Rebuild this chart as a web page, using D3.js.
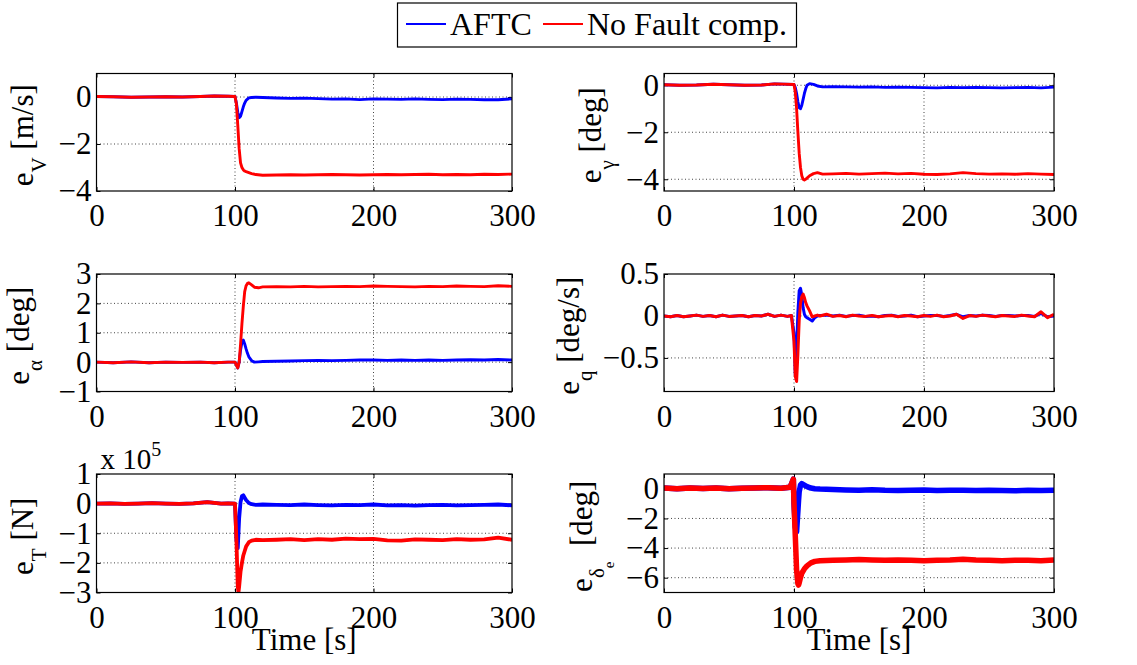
<!DOCTYPE html>
<html>
<head>
<meta charset="utf-8">
<script src="https://cdn.jsdelivr.net/npm/d3@7"></script>
<style>
    body { margin: 0; background: #fff; }
    svg text { font-family: "Liberation Serif", "Times New Roman", serif; fill: #000; }
    .grid { stroke: #444; stroke-width: 1; stroke-dasharray: 1, 2.5; }
</style>
</head>
<body>
<svg id="chart" width="1137" height="665"></svg>
<script>
//Data
const xTicks = [0, 100, 200, 300];
const seriesNames = ['AFTC', 'No Fault comp.'];

// e_V [m/s]
const tV = [0, 12, 25, 38, 50, 62, 75, 85, 95, 100, 101, 102, 103, 104, 105, 106, 107, 108, 110, 112, 115, 120,
    130, 140, 150, 160, 170, 180, 190, 200, 210, 220, 230, 240, 250, 260, 270, 280, 290, 300];
const eV_aftc = [0.02, 0.01, -0.01, 0.0, 0.01, 0.0, 0.02, 0.04, 0.03, 0.02, -0.25, -0.65, -0.88, -0.82, -0.62, -0.42, -0.26, -0.14, -0.04, -0.02, -0.01, -0.02,
    -0.04, -0.06, -0.05, -0.07, -0.09, -0.08, -0.11, -0.08, -0.09, -0.1, -0.08, -0.1, -0.11, -0.09, -0.1, -0.12, -0.12, -0.08];
const eV_nof = [0.02, 0.01, -0.01, 0.0, 0.01, 0.0, 0.02, 0.04, 0.03, 0.02, -0.3, -1.2, -2.2, -2.8, -3.0, -3.1, -3.15, -3.18, -3.22, -3.26, -3.3, -3.33,
    -3.32, -3.31, -3.32, -3.31, -3.3, -3.31, -3.32, -3.31, -3.3, -3.31, -3.3, -3.29, -3.31, -3.3, -3.31, -3.29, -3.3, -3.28];
const eV_ticks = [-4, -2, 0];

// e_gamma [deg]
const tG = [0, 12, 25, 38, 50, 62, 75, 85, 92, 100, 101, 102, 103, 104, 105, 106, 107, 108, 109, 110, 112, 115, 118, 122,
    130, 140, 150, 160, 170, 180, 190, 200, 210, 220, 230, 240, 250, 260, 270, 280, 290, 300];
const eG_aftc = [0.02, 0.0, 0.01, 0.04, 0.02, 0.0, 0.01, 0.06, 0.05, 0.03, -0.1, -0.35, -0.7, -0.95, -1.0, -0.85, -0.6, -0.35, -0.15, 0.0, 0.07, 0.04, -0.03, -0.07,
    -0.06, -0.07, -0.08, -0.07, -0.09, -0.08, -0.09, -0.1, -0.11, -0.09, -0.1, -0.09, -0.1, -0.11, -0.1, -0.09, -0.11, -0.08];
const eG_nof = [0.02, 0.0, 0.01, 0.04, 0.02, 0.0, 0.01, 0.06, 0.05, 0.03, -0.3, -1.0, -2.0, -2.9, -3.5, -3.85, -4.0, -4.03, -4.0, -3.95, -3.85, -3.76, -3.72, -3.78,
    -3.77, -3.75, -3.78, -3.76, -3.74, -3.77, -3.75, -3.79, -3.8, -3.77, -3.72, -3.76, -3.78, -3.77, -3.79, -3.76, -3.78, -3.8];
const eG_ticks = [-4, -2, 0];

// e_alpha [deg]
const tA = [0, 12, 25, 38, 50, 62, 75, 85, 95, 100, 101, 102, 103, 104, 105, 106, 107, 108, 109, 110, 112, 114, 117, 120,
    130, 140, 150, 160, 170, 180, 190, 200, 210, 220, 230, 240, 250, 260, 270, 280, 290, 300];
const eA_aftc = [0.0, -0.02, 0.01, -0.02, 0.0, -0.01, 0.0, -0.02, 0.0, 0.0, -0.1, -0.2, 0.0, 0.4, 0.68, 0.75, 0.62, 0.45, 0.3, 0.18, 0.05, 0.0, 0.01, 0.02,
    0.03, 0.04, 0.05, 0.06, 0.05, 0.06, 0.07, 0.07, 0.06, 0.07, 0.06, 0.07, 0.06, 0.07, 0.08, 0.07, 0.09, 0.07];
const eA_nof = [0.0, -0.02, 0.01, -0.02, 0.0, -0.01, 0.0, -0.02, 0.0, 0.0, -0.1, -0.2, 0.0, 0.6, 1.3, 1.9, 2.4, 2.6, 2.68, 2.7, 2.63, 2.55, 2.53, 2.56,
    2.57, 2.56, 2.58, 2.56, 2.57, 2.58, 2.57, 2.59, 2.58, 2.57, 2.56, 2.58, 2.57, 2.59, 2.58, 2.57, 2.6, 2.58];
const eA_ticks = [-1, 0, 1, 2, 3];

// e_q [deg/s]
const tQ = [0, 5, 10, 15, 20, 25, 30, 35, 40, 45, 50, 55, 60, 65, 70, 75, 80, 85, 90, 95,
    98, 100, 101, 102, 103, 104, 105, 106, 107, 108, 109, 110, 112, 114, 116, 118,
    120, 125, 130, 135, 140, 145, 150, 155, 160, 165, 170, 175, 180, 185, 190, 195, 200, 205, 210,
    215, 220, 225, 230, 235, 240, 245, 250, 255, 260, 265, 270, 275, 280, 285, 290, 295, 300];
const eQ_aftc = [0.0, -0.01, 0.005, -0.01, 0.0, 0.01, -0.005, 0.005, -0.01, 0.01, -0.005, 0.0, 0.005, -0.01, 0.005, 0.0, 0.02, -0.005, 0.01, -0.005,
    0.005, -0.2, -0.7, -0.4, 0.05, 0.3, 0.33, 0.25, 0.1, 0.02, -0.01, -0.02, -0.04, -0.06, -0.02, 0.0,
    0.005, 0.01, 0.0, 0.01, -0.005, 0.005, 0.01, -0.005, 0.0, -0.01, 0.005, 0.01, -0.005, 0.0, 0.01, -0.01, 0.0, 0.005, 0.005,
    -0.005, 0.005, 0.02, -0.01, 0.005, 0.0, 0.01, 0.005, -0.005, 0.005, 0.005, 0.0, 0.005, 0.005, -0.005, 0.03, -0.01, 0.0];
const eQ_nof = [0.0, -0.01, 0.005, -0.01, 0.0, 0.01, -0.005, 0.005, -0.01, 0.01, -0.005, 0.0, 0.005, -0.01, 0.005, 0.0, 0.02, -0.005, 0.01, -0.005,
    0.005, -0.3, -0.72, -0.78, -0.45, -0.05, 0.15, 0.23, 0.26, 0.22, 0.16, 0.12, 0.06, -0.01, 0.0, 0.01,
    0.0, 0.02, -0.005, 0.005, -0.01, 0.01, 0.0, -0.005, 0.005, -0.01, 0.0, 0.005, -0.01, 0.005, 0.0, -0.01, 0.005, -0.005, 0.01,
    -0.01, 0.0, 0.02, -0.03, 0.005, -0.005, 0.01, 0.0, -0.01, 0.005, 0.0, -0.005, 0.01, 0.0, -0.01, 0.05, -0.02, 0.02];
const eQ_ticks = [-0.5, 0, 0.5];

// e_T [N] (x 10^5)
const tT = [0, 10, 20, 30, 40, 50, 60, 70, 80, 90, 95, 100, 101, 102, 102.5, 103, 104, 105, 106, 107, 108, 110, 112, 115, 120,
    130, 140, 150, 160, 170, 180, 190, 200, 210, 220, 230, 240, 250, 260, 270, 280, 290, 300];
const eT_aftc = [0.0, 0.01, -0.01, 0.0, 0.02, 0.0, -0.01, 0.01, 0.05, 0.0, 0.01, 0.0, -1.2, -1.5, -1.0, -0.5, 0.05, 0.25, 0.28, 0.2, 0.12, 0.02, -0.02, -0.04, -0.03,
    -0.04, -0.05, -0.03, -0.05, -0.06, -0.04, -0.05, -0.03, -0.06, -0.05, -0.07, -0.05, -0.04, -0.06, -0.05, -0.04, -0.03, -0.06];
const eT_nof = [0.0, 0.01, -0.01, 0.0, 0.02, 0.0, -0.01, 0.01, 0.05, 0.0, 0.01, 0.0, -1.2, -2.8, -3.0, -2.8, -2.3, -2.0, -1.75, -1.6, -1.45, -1.3, -1.25, -1.22, -1.23,
    -1.22, -1.2, -1.23, -1.2, -1.22, -1.18, -1.2, -1.19, -1.24, -1.25, -1.21, -1.22, -1.23, -1.2, -1.22, -1.21, -1.15, -1.22];
const eT_ticks = [-3, -2, -1, 0, 1];

// e_delta_e [deg]
const tD = [0, 10, 20, 30, 40, 50, 60, 70, 80, 90, 97, 99.5, 100, 101, 102, 103, 103.5, 104, 105, 106, 108, 110, 113, 116, 120,
    130, 140, 150, 160, 170, 180, 190, 200, 210, 220, 230, 240, 250, 260, 270, 280, 290, 300];
const eD_aftc = [0.05, 0.0, 0.05, 0.02, 0.06, 0.0, 0.03, 0.05, 0.08, 0.04, 0.1, 0.65, -1.0, -2.6, -2.9, -1.5, -0.8, -0.2, 0.25, 0.35, 0.25, 0.15, 0.05, 0.0, -0.02,
    -0.05, -0.08, -0.1, -0.06, -0.1, -0.12, -0.1, -0.08, -0.12, -0.1, -0.09, -0.12, -0.1, -0.11, -0.13, -0.1, -0.12, -0.1];
const eD_nof = [0.05, 0.0, 0.05, 0.02, 0.06, 0.0, 0.03, 0.05, 0.08, 0.04, 0.1, 0.65, -1.0, -3.2, -5.5, -6.4, -6.5, -6.35, -6.0, -5.7, -5.4, -5.2, -5.0, -4.9, -4.85,
    -4.82, -4.8, -4.78, -4.8, -4.82, -4.8, -4.83, -4.85, -4.82, -4.8, -4.75, -4.8, -4.82, -4.85, -4.83, -4.82, -4.85, -4.8];
const eD_ticks = [-6, -4, -2, 0];

//Layout
const colX = [[96.5, 512], [664, 1054]];
const rowY = [[73.5, 191], [274, 391.5], [474, 592.5]];
const colors = ['#0000ff', '#ff0000'];
const serif = '"Liberation Serif", "Times New Roman", serif';

// label = [text, font-size, dy]
const panels = [
    { col: 0, row: 0, t: tV, aftc: eV_aftc, nof: eV_nof, ylim: [-4, 1], yticks: eV_ticks, lw: 2.9,
      label: [['e', 31, 0], ['V', 21, 13], [' [m/s]', 31, -13]], labelX: 33 },
    { col: 1, row: 0, t: tG, aftc: eG_aftc, nof: eG_nof, ylim: [-4.5, 0.5], yticks: eG_ticks, lw: 2.9,
      label: [['e', 31, 0], ['γ', 21, 13], [' [deg]', 31, -13]], labelX: 601 },
    { col: 0, row: 1, t: tA, aftc: eA_aftc, nof: eA_nof, ylim: [-1, 3], yticks: eA_ticks, lw: 2.9,
      label: [['e', 31, 0], ['α', 21, 13], [' [deg]', 31, -13]], labelX: 29 },
    { col: 1, row: 1, t: tQ, aftc: eQ_aftc, nof: eQ_nof, ylim: [-0.9, 0.5], yticks: eQ_ticks, lw: 3,
      label: [['e', 31, 0], ['q', 21, 13], [' [deg/s]', 31, -13]], labelX: 579 },
    { col: 0, row: 2, t: tT, aftc: eT_aftc, nof: eT_nof, ylim: [-3, 1], yticks: eT_ticks, lw: 3.8,
      label: [['e', 31, 0], ['T', 21, 13], [' [N]', 31, -13]], labelX: 33, exponent: true },
    { col: 1, row: 2, t: tD, aftc: eD_aftc, nof: eD_nof, ylim: [-7, 1], yticks: eD_ticks, lw: 5.5,
      label: [['e', 31, 0], ['δ', 21, 12], ['e', 15, 10], ['  [deg]', 31, -22]], labelX: 592 }
];

const svg = d3.select('#chart');
const fmt = d3.format('~g');

function styleAxis(g) {
    g.attr('font-size', 31).attr('color', '#000');
    g.selectAll('text').style('font-family', serif).attr('font-size', 31);
    g.select('.domain').remove();
    g.selectAll('.tick line').attr('stroke-width', 1);
}

function drawPanel(p, i) {
    const [x0, x1] = colX[p.col];
    const [y0, y1] = rowY[p.row];
    const x = d3.scaleLinear([0, 300], [x0, x1]);
    const y = d3.scaleLinear(p.ylim, [y1, y0]);
    const g = svg.append('g').attr('class', 'panel');

    //grid (dotted)
    g.append('g').selectAll('line')
        .data(xTicks.filter(v => v > 0 && v < 300)).join('line')
        .attr('class', 'grid')
        .attr('x1', d => x(d)).attr('x2', d => x(d))
        .attr('y1', y0).attr('y2', y1);
    g.append('g').selectAll('line')
        .data(p.yticks.filter(v => v > p.ylim[0] && v < p.ylim[1])).join('line')
        .attr('class', 'grid')
        .attr('x1', x0).attr('x2', x1)
        .attr('y1', d => y(d)).attr('y2', d => y(d));

    //axes, ticks pointing inward
    g.append('g').attr('transform', `translate(0,${y1})`)
        .call(d3.axisBottom(x).tickValues(xTicks).tickFormat(fmt).tickSizeInner(-4).tickSizeOuter(0).tickPadding(13))
        .call(styleAxis);
    g.append('g').attr('transform', `translate(0,${y0})`)
        .call(d3.axisTop(x).tickValues(xTicks).tickFormat('').tickSizeInner(-4).tickSizeOuter(0))
        .call(styleAxis);
    g.append('g').attr('transform', `translate(${x0},0)`)
        .call(d3.axisLeft(y).tickValues(p.yticks).tickFormat(fmt).tickSizeInner(-4).tickSizeOuter(0).tickPadding(5))
        .call(styleAxis);
    g.append('g').attr('transform', `translate(${x1},0)`)
        .call(d3.axisRight(y).tickValues(p.yticks).tickFormat('').tickSizeInner(-4).tickSizeOuter(0))
        .call(styleAxis);

    //curves, clipped to the axes box
    svg.append('clipPath').attr('id', 'clip' + i)
        .append('rect').attr('x', x0).attr('y', y0).attr('width', x1 - x0).attr('height', y1 - y0);
    const line = d3.line().x(d => x(d[0])).y(d => y(d[1]));
    const lines = g.append('g').attr('clip-path', `url(#clip${i})`);
    [p.aftc, p.nof].forEach((vals, k) => {
        lines.append('path')
            .datum(p.t.map((t, j) => [t, vals[j]]))
            .attr('d', line)
            .attr('fill', 'none')
            .attr('stroke', colors[k])
            .attr('stroke-width', p.lw)
            .attr('stroke-linejoin', 'round');
    });

    //box
    g.append('rect')
        .attr('x', x0).attr('y', y0).attr('width', x1 - x0).attr('height', y1 - y0)
        .attr('fill', 'none').attr('stroke', '#000').attr('stroke-width', 1.2);

    //y label
    const lab = g.append('text')
        .attr('transform', `translate(${p.labelX},${(y0 + y1) / 2 + 3}) rotate(-90)`)
        .attr('text-anchor', 'middle');
    p.label.forEach(([txt, size, dy]) => {
        lab.append('tspan').attr('font-size', size).attr('dy', dy).style('white-space', 'pre').text(txt);
    });

    //x label on the bottom row
    if (p.row === 2) {
        g.append('text')
            .attr('x', (x0 + x1) / 2).attr('y', 650)
            .attr('text-anchor', 'middle').attr('font-size', 31)
            .text('Time [s]');
    }
    //scale factor of e_T
    if (p.exponent) {
        const ex = g.append('text').attr('x', x0 + 4).attr('y', y0 - 5).attr('font-size', 29);
        ex.append('tspan').text('x 10');
        ex.append('tspan').attr('font-size', 20).attr('dy', -13).text('5');
    }
}

panels.forEach(drawPanel);

//Legend
const legend = svg.append('g').attr('class', 'legend');
legend.append('rect')
    .attr('x', 397.5).attr('y', 3).attr('width', 399).attr('height', 44)
    .attr('fill', '#fff').attr('stroke', '#000').attr('stroke-width', 1.2);
const legendX = [406, 543];
seriesNames.forEach((name, k) => {
    legend.append('line')
        .attr('x1', legendX[k]).attr('x2', legendX[k] + 40)
        .attr('y1', 24).attr('y2', 24)
        .attr('stroke', colors[k]).attr('stroke-width', 2);
    legend.append('text')
        .attr('x', legendX[k] + 44).attr('y', 35)
        .attr('font-size', 32)
        .text(name);
});
</script>
</body>
</html>
